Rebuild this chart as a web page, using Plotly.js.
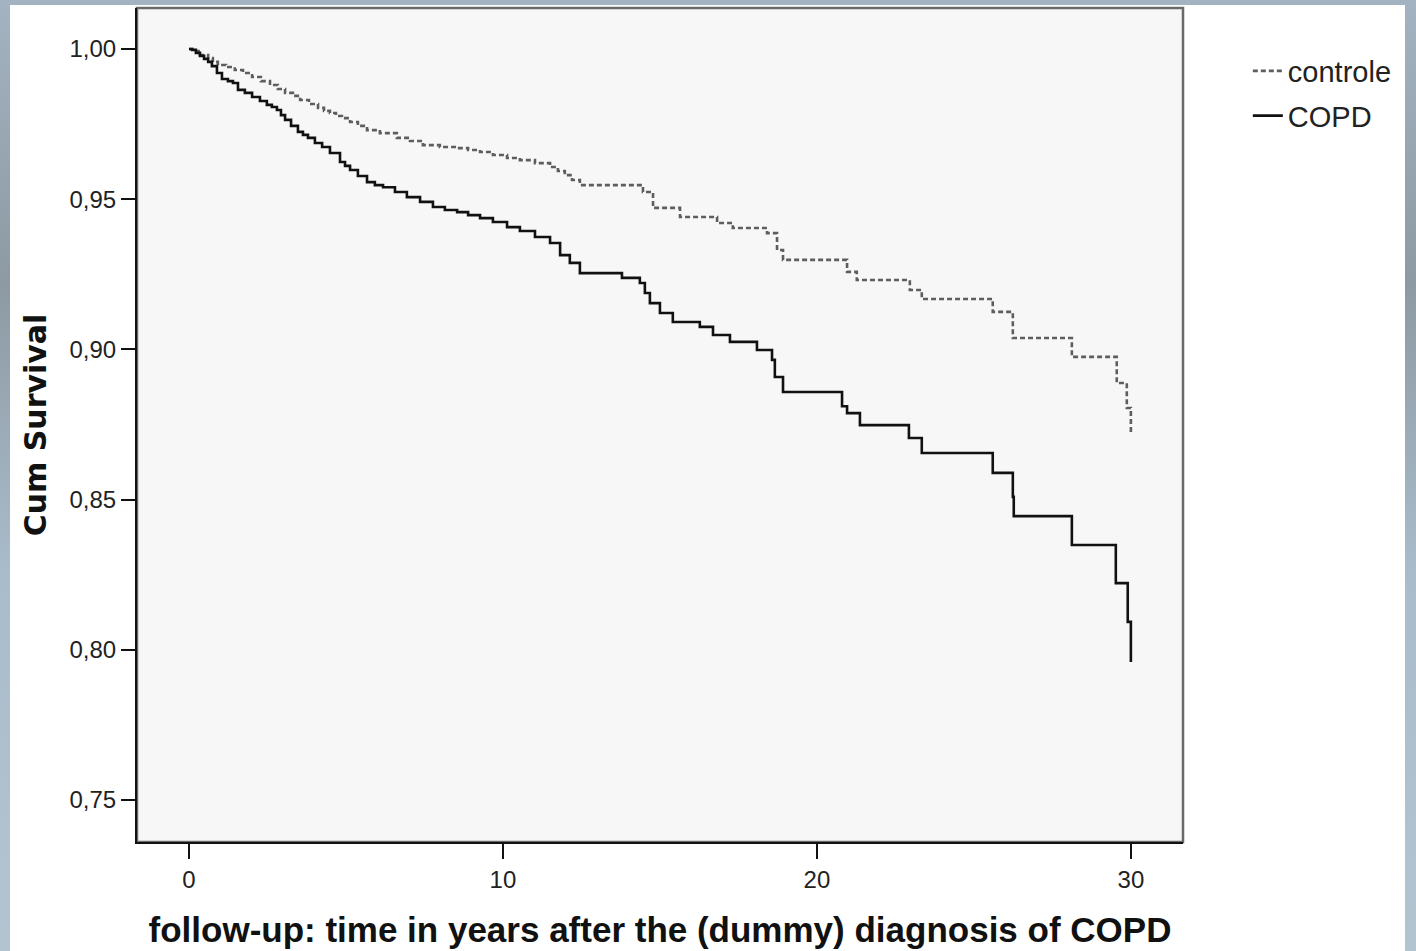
<!DOCTYPE html>
<html>
<head>
<meta charset="utf-8">
<script src="https://cdn.plot.ly/plotly-3.0.1.min.js"></script>
<style>
  html, body { margin: 0; padding: 0; width: 1416px; height: 951px; overflow: hidden; }
  body { background: linear-gradient(180deg, #a3b3c1 0%, #8d9aa3 30%, #a9bccb 60%, #b3c4d1 100%); position: relative; }
  #chart { position: absolute; left: 10px; top: 5px; width: 1395px; height: 946px; background: #ffffff; }
</style>
</head>
<body>
<div id="chart"></div>
<script>
// Kaplan-Meier step points (time in years, cumulative survival)
const controleTime = [0, 0.1, 0.35, 0.61, 0.76, 0.92, 1.18, 1.46, 1.72, 2.01, 2.29, 2.58, 2.83, 3.06, 3.31, 3.54, 3.82, 4.11, 4.3, 4.49, 4.68, 4.87, 5.13, 5.38, 5.67, 6.08, 6.62, 7.04, 7.45, 7.99, 8.54, 8.89, 9.27, 9.68, 10.13, 10.54, 11.02, 11.5, 11.75, 11.97, 12.2, 12.45, 14.46, 14.78, 15.64, 16.82, 17.32, 18.41, 18.73, 18.92, 20.96, 21.27, 22.96, 23.34, 25.6, 26.24, 28.12, 29.55, 29.87, 30.0];
const controleSurv = [1.0, 0.9993, 0.998, 0.997, 0.9957, 0.9947, 0.994, 0.993, 0.992, 0.9907, 0.9893, 0.988, 0.9867, 0.9854, 0.9844, 0.983, 0.9817, 0.9804, 0.9794, 0.9787, 0.9777, 0.977, 0.9757, 0.9744, 0.973, 0.972, 0.9704, 0.9694, 0.968, 0.9674, 0.967, 0.9664, 0.9657, 0.9647, 0.9637, 0.963, 0.962, 0.9607, 0.9594, 0.958, 0.9564, 0.9547, 0.9524, 0.9471, 0.9441, 0.9421, 0.9404, 0.9387, 0.9331, 0.9298, 0.9258, 0.9231, 0.9198, 0.9168, 0.9125, 0.9038, 0.8975, 0.8888, 0.8805, 0.8722];

const copdTime = [0, 0.1, 0.22, 0.35, 0.48, 0.61, 0.73, 0.89, 1.05, 1.24, 1.4, 1.56, 1.78, 2.01, 2.26, 2.48, 2.64, 2.8, 2.93, 3.06, 3.25, 3.47, 3.63, 3.79, 4.01, 4.24, 4.49, 4.81, 4.97, 5.13, 5.38, 5.67, 5.92, 6.18, 6.56, 6.94, 7.36, 7.77, 8.15, 8.54, 8.89, 9.27, 9.68, 10.13, 10.54, 11.02, 11.5, 11.82, 12.13, 12.45, 13.79, 14.36, 14.52, 14.68, 15.0, 15.41, 16.27, 16.69, 17.23, 18.09, 18.57, 18.66, 18.92, 20.8, 20.96, 21.37, 22.93, 23.34, 25.6, 26.24, 26.27, 28.12, 29.52, 29.9, 30.0];
const copdSurv = [1.0, 0.9997, 0.9987, 0.9977, 0.9967, 0.9957, 0.9943, 0.992, 0.99, 0.9893, 0.9887, 0.9864, 0.9854, 0.984, 0.9827, 0.9814, 0.9807, 0.9797, 0.978, 0.9764, 0.9744, 0.9724, 0.9714, 0.9704, 0.9687, 0.9674, 0.9654, 0.9624, 0.9611, 0.9597, 0.9577, 0.9557, 0.9547, 0.954, 0.9524, 0.9507, 0.9491, 0.9474, 0.9464, 0.9457, 0.9447, 0.9437, 0.9424, 0.9407, 0.9394, 0.9374, 0.9354, 0.9314, 0.9288, 0.9254, 0.9238, 0.9221, 0.9188, 0.9154, 0.9121, 0.9091, 0.9075, 0.9048, 0.9025, 0.8998, 0.8965, 0.8908, 0.8858, 0.8811, 0.8788, 0.8748, 0.8705, 0.8655, 0.8589, 0.8509, 0.8445, 0.8349, 0.8222, 0.8093, 0.7959];

const seriesNames = ["controle", "COPD"];
const xTickVals = [0, 10, 20, 30];
const yTickVals = [0.75, 0.80, 0.85, 0.90, 0.95, 1.00];

const traces = [
  {
    x: controleTime, y: controleSurv, name: seriesNames[0], legendgroup: "g1",
    type: "scatter", mode: "lines",
    line: { shape: "hv", color: "#5e5e5e", width: 2.6, dash: "5px,3px" }
  },
  {
    x: copdTime, y: copdSurv, name: seriesNames[1], legendgroup: "g2",
    type: "scatter", mode: "lines",
    line: { shape: "hv", color: "#111111", width: 2.6 }
  }
];

const layout = {
  width: 1395, height: 946,
  margin: { l: 127, r: 222, t: 3, b: 109 },
  paper_bgcolor: "#ffffff",
  plot_bgcolor: "#f7f7f7",
  separators: ", ",
  showlegend: true,
  font: { family: "Liberation Sans, Arial, sans-serif", color: "#1a1a1a" },
  xaxis: {
    range: [-1.656, 31.66],
    tickvals: xTickVals,
    tickformat: "d",
    ticks: "outside", ticklen: 15, tickwidth: 2, tickcolor: "#111",
    showgrid: false, zeroline: false,
    showline: true, linecolor: "#111", linewidth: 2,
    tickfont: { size: 24, color: "#222" },
    title: { text: "follow-up: time in years after the (dummy) diagnosis of COPD",
             font: { size: 35, family: "Liberation Sans, Arial, sans-serif", weight: "bold", color: "#111" },
             standoff: 26 }
  },
  yaxis: {
    range: [0.73602, 1.01365],
    tickvals: yTickVals,
    tickformat: ".2f",
    ticks: "outside", ticklen: 14, tickwidth: 2, tickcolor: "#111",
    showgrid: false, zeroline: false,
    showline: true, linecolor: "#111", linewidth: 2,
    tickfont: { size: 24, color: "#222" },
    title: { text: "Cum Survival",
             font: { size: 30, family: "DejaVu Sans, sans-serif", weight: "bold", color: "#111" },
             standoff: 14 }
  },
  shapes: [
    { type: "rect", xref: "paper", yref: "paper", x0: 0, x1: 1, y0: 0, y1: 1,
      line: { color: "#6a6a6a", width: 2.5 }, layer: "below", fillcolor: "rgba(0,0,0,0)" }
  ],
  legend: {
    x: 1.062, xanchor: "left", y: 0.955, yanchor: "top",
    bgcolor: "rgba(0,0,0,0)",
    font: { size: 29, color: "#222" },
    tracegroupgap: 4, itemwidth: 30
  }
};

Plotly.newPlot("chart", traces, layout, { displayModeBar: false, staticPlot: true });
</script>
</body>
</html>
